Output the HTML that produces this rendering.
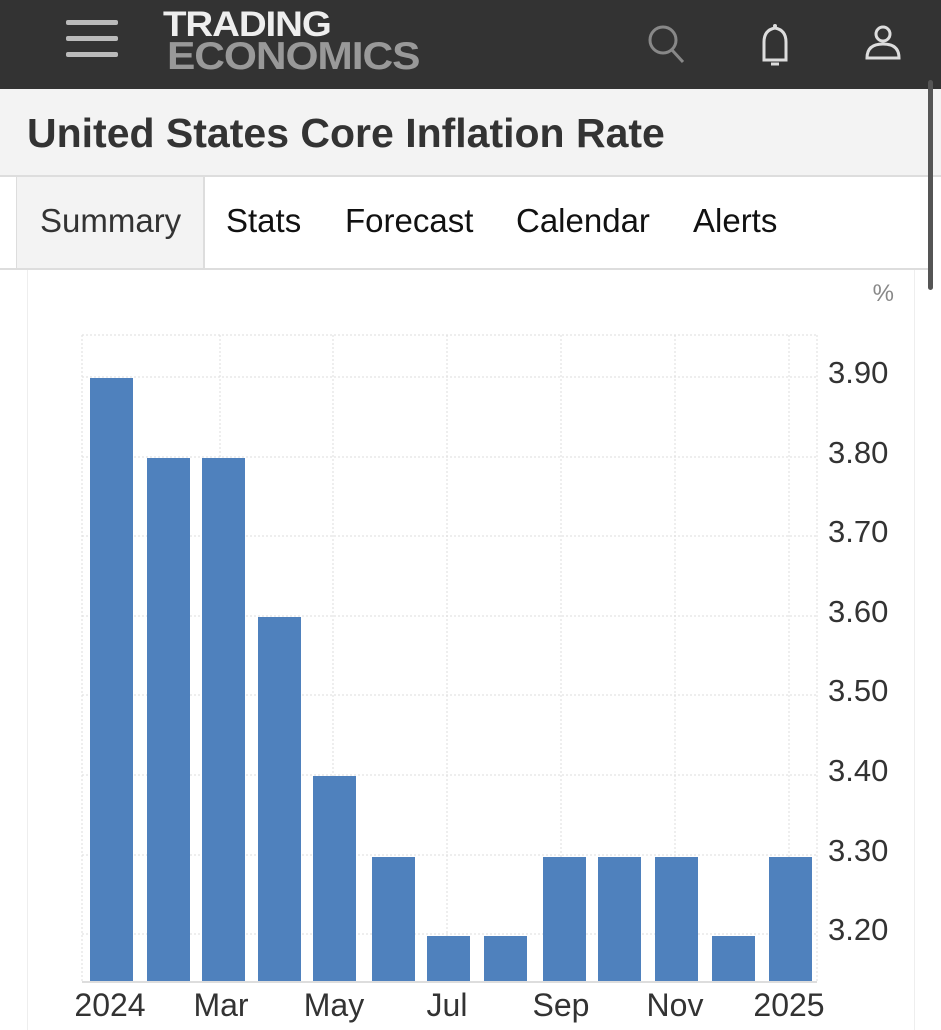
<!DOCTYPE html>
<html><head><style>
body{margin:0;width:941px;height:1024px;overflow:hidden;background:#fff;font-family:"Liberation Sans",sans-serif;position:relative}
.top{position:absolute;left:0;top:0;width:941px;height:89px;background:#333}
.hb{position:absolute;left:66px;width:52px;height:5px;background:#bbb;border-radius:2px}
.logo1{position:absolute;left:163px;top:5px;color:#eee;font-weight:bold;font-size:35px;letter-spacing:-1px;transform:scaleX(1.1);transform-origin:left}
.logo2{position:absolute;left:167px;top:35px;color:#999;font-weight:bold;font-size:39px;letter-spacing:-1px;transform:scaleX(1.09);transform-origin:left}
.title{position:absolute;left:0;top:89px;width:941px;height:86px;background:#f3f3f3;border-bottom:2px solid #ddd}
.title span{position:absolute;left:27px;top:21px;font-size:41px;font-weight:bold;color:#333}
.tabs{position:absolute;top:177px;left:0;width:930px;height:91px;border-bottom:2px solid #ddd}
.tab{position:absolute;top:25px;font-size:33px;color:#111}
.sumbox{position:absolute;left:16px;top:177px;width:186px;height:91px;background:#f3f3f3;border-left:1px solid #ddd;border-right:2px solid #ddd}
.card{position:absolute;left:27px;top:270px;width:886px;height:760px;border-left:1px solid #eee;border-right:1px solid #eee}
.sb{position:absolute;left:928px;top:80px;width:5px;height:210px;background:#555;border-radius:3px}
</style></head><body>
<div class="top">
<div class="hb" style="top:20px"></div><div class="hb" style="top:36px"></div><div class="hb" style="top:52px"></div>
<div class="logo1">TRADING</div><div class="logo2">ECONOMICS</div>
<svg style="position:absolute;left:640px;top:20px" width="290" height="50">
<circle cx="23" cy="20" r="13" fill="none" stroke="#888" stroke-width="3"/><line x1="32" y1="30" x2="43" y2="42" stroke="#888" stroke-width="3"/>
<path d="M124 40 L124 22 Q124 10 135 8 Q146 10 146 22 L146 40 Z" fill="none" stroke="#ddd" stroke-width="3"/><circle cx="135" cy="6" r="2" fill="#ddd"/><line x1="131" y1="44" x2="139" y2="44" stroke="#ddd" stroke-width="3"/>
<circle cx="243" cy="14" r="7" fill="none" stroke="#ddd" stroke-width="3"/><path d="M227 38 Q227 24 243 24 Q259 24 259 38 Z" fill="none" stroke="#ddd" stroke-width="3"/>
</svg>
</div>
<div class="title"><span>United States Core Inflation Rate</span></div>
<div class="sumbox"></div>
<div class="tabs">
<span class="tab" style="left:40px;color:#333">Summary</span>
<span class="tab" style="left:226px">Stats</span>
<span class="tab" style="left:345px">Forecast</span>
<span class="tab" style="left:516px">Calendar</span>
<span class="tab" style="left:693px">Alerts</span>
</div>
<div class="card"></div>
<div class="sb"></div>
<svg style="position:absolute;left:0;top:0" width="941" height="1024" font-family="Liberation Sans, sans-serif">
<text x="894" y="301" font-size="24" fill="#888" text-anchor="end">%</text>
<g stroke="#ddd" stroke-dasharray="2,2" stroke-width="1">
<line x1="82" y1="335" x2="817" y2="335"/>
<line x1="82" y1="377" x2="817" y2="377"/><line x1="82" y1="457" x2="817" y2="457"/><line x1="82" y1="536" x2="817" y2="536"/><line x1="82" y1="616" x2="817" y2="616"/><line x1="82" y1="695" x2="817" y2="695"/><line x1="82" y1="775" x2="817" y2="775"/><line x1="82" y1="855" x2="817" y2="855"/><line x1="82" y1="934" x2="817" y2="934"/>
<line x1="82" y1="335" x2="82" y2="981"/><line x1="220" y1="335" x2="220" y2="981"/><line x1="333" y1="335" x2="333" y2="981"/><line x1="447" y1="335" x2="447" y2="981"/><line x1="561" y1="335" x2="561" y2="981"/><line x1="675" y1="335" x2="675" y2="981"/><line x1="789" y1="335" x2="789" y2="981"/><line x1="817" y1="335" x2="817" y2="981"/>
</g>
<line x1="82" y1="982" x2="817" y2="982" stroke="#ddd" stroke-width="2"/>
<g fill="#4f81bd">
<rect x="90" y="378" width="43" height="603"/><rect x="147" y="458" width="43" height="523"/><rect x="202" y="458" width="43" height="523"/><rect x="258" y="617" width="43" height="364"/><rect x="313" y="776" width="43" height="205"/><rect x="372" y="857" width="43" height="124"/><rect x="427" y="936" width="43" height="45"/><rect x="484" y="936" width="43" height="45"/><rect x="543" y="857" width="43" height="124"/><rect x="598" y="857" width="43" height="124"/><rect x="655" y="857" width="43" height="124"/><rect x="712" y="936" width="43" height="45"/><rect x="769" y="857" width="43" height="124"/>
</g>
<g font-size="31" fill="#333">
<text x="828" y="383">3.90</text><text x="828" y="463">3.80</text><text x="828" y="542">3.70</text><text x="828" y="622">3.60</text><text x="828" y="701">3.50</text><text x="828" y="781">3.40</text><text x="828" y="861">3.30</text><text x="828" y="940">3.20</text>
</g>
<g font-size="32" fill="#333" text-anchor="middle">
<text x="110" y="1016">2024</text><text x="221" y="1016">Mar</text><text x="334" y="1016">May</text><text x="447" y="1016">Jul</text><text x="561" y="1016">Sep</text><text x="675" y="1016">Nov</text><text x="789" y="1016">2025</text>
</g>
</svg>
</body></html>
